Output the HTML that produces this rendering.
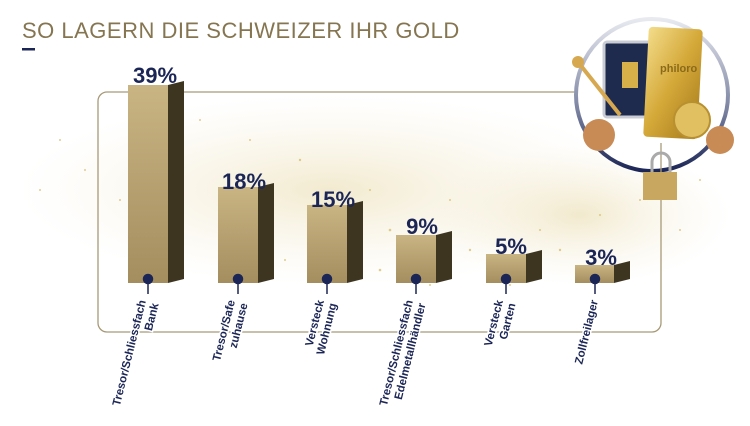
<!DOCTYPE html>
<html><head><meta charset="utf-8"><style>
body{margin:0;background:#fff;width:750px;height:421px;overflow:hidden;font-family:"Liberation Sans",sans-serif}
</style></head><body>
<svg width="750" height="421" viewBox="0 0 750 421" xmlns="http://www.w3.org/2000/svg">
<defs>
<radialGradient id="haze" cx="50%" cy="50%" r="50%">
<stop offset="0" stop-color="#e8d9a8" stop-opacity="0.55"/>
<stop offset="1" stop-color="#f3ead0" stop-opacity="0"/>
</radialGradient>
<linearGradient id="front" x1="0" x2="0" y1="0" y2="1">
<stop offset="0" stop-color="#c9b484"/><stop offset="1" stop-color="#a48d5e"/>
</linearGradient>
<linearGradient id="ring" x1="0" x2="0" y1="0" y2="1">
<stop offset="0" stop-color="#e8eaf0"/><stop offset="0.6" stop-color="#7a82a0"/><stop offset="1" stop-color="#1c2656"/>
</linearGradient>
<linearGradient id="goldbar" x1="0" x2="1" y1="0" y2="1">
<stop offset="0" stop-color="#f3dc8a"/><stop offset="0.5" stop-color="#d4a838"/><stop offset="1" stop-color="#a57a1c"/>
</linearGradient>
</defs>
<ellipse cx="330" cy="190" rx="310" ry="95" fill="url(#haze)"/>
<ellipse cx="580" cy="215" rx="150" ry="70" fill="url(#haze)"/>
<g fill="#d4b860" opacity="0.7">
<circle cx="60" cy="140" r="1"/><circle cx="85" cy="170" r="1"/><circle cx="200" cy="120" r="1"/><circle cx="300" cy="160" r="1.2"/><circle cx="370" cy="190" r="1"/><circle cx="390" cy="230" r="1.3"/><circle cx="360" cy="245" r="1"/><circle cx="450" cy="200" r="1"/><circle cx="470" cy="250" r="1.2"/><circle cx="540" cy="230" r="1"/><circle cx="560" cy="250" r="1.2"/><circle cx="600" cy="215" r="1"/><circle cx="640" cy="200" r="1"/><circle cx="680" cy="230" r="1"/><circle cx="700" cy="180" r="1"/><circle cx="285" cy="260" r="1"/><circle cx="380" cy="270" r="1.3"/><circle cx="430" cy="285" r="1"/><circle cx="510" cy="285" r="1"/><circle cx="250" cy="140" r="1"/><circle cx="120" cy="200" r="1"/><circle cx="40" cy="190" r="1"/>
</g>
<text x="22" y="38" font-size="22" fill="#857550" letter-spacing="0.5">SO LAGERN DIE SCHWEIZER IHR GOLD</text>
<rect x="22" y="48" width="13" height="2.5" fill="#1c2656"/>
<rect x="98" y="92" width="563" height="240" rx="9" fill="none" stroke="#a89a78" stroke-width="1.3"/>
<g>
<g><polygon points="168,85 184,81 184,279 168,283" fill="#3e3520"/><rect x="128" y="85" width="40" height="198" fill="url(#front)"/></g>
<g><polygon points="258,187 274,183 274,279 258,283" fill="#3e3520"/><rect x="218" y="187" width="40" height="96" fill="url(#front)"/></g>
<g><polygon points="347,205 363,201 363,279 347,283" fill="#3e3520"/><rect x="307" y="205" width="40" height="78" fill="url(#front)"/></g>
<g><polygon points="436,235 452,231 452,279 436,283" fill="#3e3520"/><rect x="396" y="235" width="40" height="48" fill="url(#front)"/></g>
<g><polygon points="526,254 542,250 542,279 526,283" fill="#3e3520"/><rect x="486" y="254" width="40" height="29" fill="url(#front)"/></g>
<g><polygon points="614,265 630,261 630,279 614,283" fill="#3e3520"/><rect x="575" y="265" width="39" height="18" fill="url(#front)"/></g>
</g>
<g font-size="22" font-weight="bold" fill="#1c2656" text-anchor="middle">
<text x="155" y="83">39%</text><text x="244" y="189">18%</text><text x="333" y="207">15%</text><text x="422" y="234">9%</text><text x="511" y="254">5%</text><text x="601" y="265">3%</text>
</g>
<g stroke="#1c2656" stroke-width="1.5" fill="#1c2656">
<line x1="148" y1="279" x2="148" y2="294"/><circle cx="148" cy="279" r="4.5"/>
<line x1="238" y1="279" x2="238" y2="294"/><circle cx="238" cy="279" r="4.5"/>
<line x1="327" y1="279" x2="327" y2="294"/><circle cx="327" cy="279" r="4.5"/>
<line x1="416" y1="279" x2="416" y2="294"/><circle cx="416" cy="279" r="4.5"/>
<line x1="506" y1="279" x2="506" y2="294"/><circle cx="506" cy="279" r="4.5"/>
<line x1="595" y1="279" x2="595" y2="294"/><circle cx="595" cy="279" r="4.5"/>
</g>
<g font-size="11.5" font-weight="bold" fill="#1c2656" text-anchor="end" stroke="#fff" stroke-width="3" paint-order="stroke">
<text transform="translate(146,301) rotate(-76)"><tspan x="0" dy="0">Tresor/Schliessfach</tspan><tspan x="0" dy="13">Bank</tspan></text>
<text transform="translate(235,301) rotate(-76)"><tspan x="0" dy="0">Tresor/Safe</tspan><tspan x="0" dy="13">zuhause</tspan></text>
<text transform="translate(324,301) rotate(-76)"><tspan x="0" dy="0">Versteck</tspan><tspan x="0" dy="13">Wohnung</tspan></text>
<text transform="translate(413,301) rotate(-76)"><tspan x="0" dy="0">Tresor/Schliessfach</tspan><tspan x="0" dy="13">Edelmetallhändler</tspan></text>
<text transform="translate(503,301) rotate(-76)"><tspan x="0" dy="0">Versteck</tspan><tspan x="0" dy="13">Garten</tspan></text>
<text transform="translate(598,301) rotate(-76)">Zollfreilager</text>
</g>
<circle cx="652" cy="95" r="76" fill="#fff" stroke="url(#ring)" stroke-width="4"/>
<line x1="661" y1="143" x2="661" y2="200" stroke="#a89a78" stroke-width="1.3"/>
<rect x="604" y="42" width="50" height="75" rx="3" fill="#1e2b4f" stroke="#c9ccd4" stroke-width="3"/>
<rect x="622" y="62" width="16" height="26" fill="#d7b04a"/>
<rect x="646" y="28" width="54" height="110" rx="4" fill="url(#goldbar)" transform="rotate(3 673 83)"/>
<text x="660" y="72" font-size="11" fill="#8a6a1a" font-weight="bold">philoro</text>
<line x1="578" y1="62" x2="620" y2="115" stroke="#d6a850" stroke-width="4"/>
<circle cx="578" cy="62" r="6" fill="#d6a850"/>
<circle cx="692" cy="120" r="18" fill="#e0c060" stroke="#b89030" stroke-width="2"/>
<circle cx="599" cy="135" r="16" fill="#c98b55"/>
<circle cx="720" cy="140" r="14" fill="#c98b55"/>
<path d="M652 172 v-10 a9 9 0 0 1 18 0 v10" fill="none" stroke="#aaa" stroke-width="3"/>
<rect x="643" y="172" width="34" height="28" fill="#c8a860"/>
</svg>
</body></html>
